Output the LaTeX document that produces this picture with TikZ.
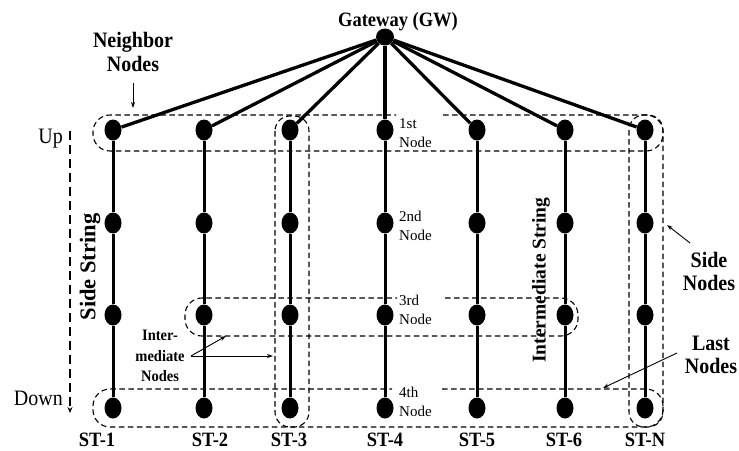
\documentclass[tikz,border=0pt]{standalone}
\usepackage{fontspec}
\usepackage{graphicx}
\setmainfont{Liberation Serif}
\usetikzlibrary{shapes.geometric,arrows.meta}
\newcommand{\vstr}[1]{\scalebox{1}[1.1]{#1}}
\begin{document}
\begin{tikzpicture}[x=1pt,y=-1pt,
  sn/.style={ellipse,fill=black,minimum width=17pt,minimum height=21pt,inner sep=0pt},
  gwn/.style={ellipse,fill=black,minimum width=18pt,minimum height=17pt,inner sep=0pt},
  strline/.style={line width=3pt},
  gwline/.style={line width=3.3pt},
  dbox/.style={line width=1.1pt,dash pattern=on 5.5pt off 3.5pt},
  thinarrow/.style={line width=0.9pt,-{Stealth[length=6pt,width=4pt]}},
  lbl/.style={inner sep=0pt,align=center},
  big/.style={font=\bfseries\fontsize{20}{21}\selectfont},
  stl/.style={lbl,font=\bfseries\fontsize{18.5}{18.5}\selectfont},
  nl/.style={lbl,anchor=west,font=\fontsize{15}{19}\selectfont},
]
\useasboundingbox (0,0) rectangle (739,450);
% dashed groups
\draw[dbox,rounded corners=17pt] (443,115) -- (663,115) -- (663,151) -- (93,151) -- (93,115) -- (396,115);
\draw[dbox,rounded corners=17pt] (445,298) -- (578,298) -- (578,336) -- (185,336) -- (185,298) -- (397,298);
\draw[dbox,rounded corners=17pt] (442,389) -- (663,389) -- (663,427) -- (93,427) -- (93,389) -- (392,389);
\draw[dbox,rounded corners=15pt] (275,116) rectangle (309,427);
\draw[dbox,rounded corners=15pt] (629,115) rectangle (663,427);
% nodes
\node[gwn] (gw) at (385,37) {};
\foreach \col/\xx in {1/113,2/204,3/290,4/385,5/477,6/565,7/645} {
  \foreach \row/\yy in {1/130,2/223,3/315,4/408} {
    \node[sn] (n\col\row) at (\xx,\yy) {};
  }
}
\foreach \col in {1,...,7} {
  \draw[strline] (n\col1) -- (n\col2) -- (n\col3) -- (n\col4);
  \draw[gwline] (gw) -- (n\col1);
}
% labels
\node[lbl,font=\bfseries\fontsize{18.5}{18.5}\selectfont] (gwlabel) at (398,21.5) {\vstr{Gateway (GW)}};
\node[lbl,big,font=\bfseries\fontsize{20}{21.8}\selectfont] (nnlabel) at (133,55) {\vstr{\begin{tabular}{@{}c@{}}Neighbor\\Nodes\end{tabular}}};
\coordinate (nnA) at (133,83);
\coordinate (nnB) at (133,108);
\draw[thinarrow] (nnA) -- (nnB);

\node[lbl,anchor=east,font=\fontsize{20}{20}\selectfont] (up) at (63,139) {\vstr{Up}};
\node[lbl,anchor=east,font=\fontsize{20}{20}\selectfont] (down) at (63,398) {\vstr{Down}};
\coordinate (udA) at (70,131);
\coordinate (udB) at (70,413);
\draw[line width=2pt,dash pattern=on 9pt off 5pt,-{Stealth[length=6pt,width=5pt]}] (udA) -- (udB);

\node[lbl,rotate=90,font=\bfseries\fontsize{22.5}{22.5}\selectfont] (sidestr) at (90,267) {Side String};
\node[lbl,rotate=90,font=\bfseries\fontsize{19.5}{19.5}\selectfont] (interstr) at (541,280) {Intermediate String};

\node[lbl,font=\bfseries\fontsize{14.5}{18.6}\selectfont] (imlabel) at (160,357) {\vstr{\begin{tabular}{@{}c@{}}Inter-\\mediate\\Nodes\end{tabular}}};
\coordinate (imS) at (191,356);
\coordinate (imA) at (226,336);
\coordinate (imB) at (273,356);
\draw[thinarrow] (imS) -- (imA);
\draw[thinarrow] (imS) -- (imB);

\node[lbl,big] (sidelabel) at (709,274) {\vstr{\begin{tabular}{@{}c@{}}Side\\Nodes\end{tabular}}};
\coordinate (snA) at (690,243);
\coordinate (snB) at (667,225);
\draw[thinarrow] (snA) -- (snB);

\node[lbl,big] (lastlabel) at (711,357) {\vstr{\begin{tabular}{@{}c@{}}Last\\Nodes\end{tabular}}};
\coordinate (lnA) at (677,353);
\coordinate (lnB) at (603,388);
\draw[thinarrow] (lnA) -- (lnB);

\node[nl] (l1) at (399,133.7) {\begin{tabular}{@{}l@{}}1st\\Node\end{tabular}};
\node[nl] (l2) at (399,227.4) {\begin{tabular}{@{}l@{}}2nd\\Node\end{tabular}};
\node[nl] (l3) at (399,310.7) {\begin{tabular}{@{}l@{}}3rd\\Node\end{tabular}};
\node[nl] (l4) at (399,402.7) {\begin{tabular}{@{}l@{}}4th\\Node\end{tabular}};

\node[stl] (st1) at (97,439.5) {\vstr{ST-1}};
\node[stl] (st2) at (210,439.5) {\vstr{ST-2}};
\node[stl] (st3) at (289,439.5) {\vstr{ST-3}};
\node[stl] (st4) at (385,439.5) {\vstr{ST-4}};
\node[stl] (st5) at (477,439.5) {\vstr{ST-5}};
\node[stl] (st6) at (564,439.5) {\vstr{ST-6}};
\node[stl] (st7) at (645,439.5) {\vstr{ST-N}};
\end{tikzpicture}
\end{document}
